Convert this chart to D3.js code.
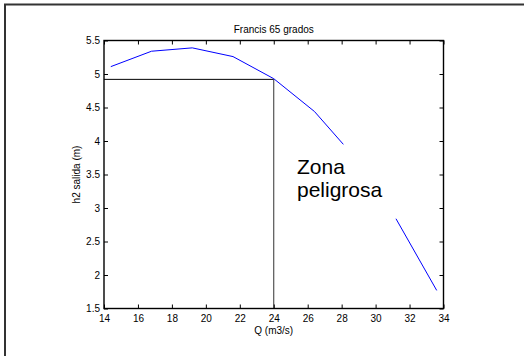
<!DOCTYPE html>
<html>
<head>
<meta charset="utf-8">
<script src="https://cdn.jsdelivr.net/npm/d3@7"></script>
<style>
  html, body { margin: 0; padding: 0; background: #fff; }
  svg { display: block; }
  text { font-family: "Liberation Sans", Arial, sans-serif; fill: #000; }
</style>
</head>
<body>
<svg id="chart" width="524" height="356"></svg>
<script>
// Caudal Q (m3/s) y altura h2 de salida (m); null marca el tramo sin curva
const caudal = [14.4, 16.8, 19.2, 21.6, 24.0, 26.4, 28.1, null, 31.2, 33.6];
const alturaSalida = [5.11, 5.34, 5.39, 5.26, 4.93, 4.44, 3.95, null, 2.84, 1.77];
// Punto de diseño marcado con las líneas guía
const puntoDiseno = [24, 4.92];
const xTicks = [14, 16, 18, 20, 22, 24, 26, 28, 30, 32, 34];
const yTicks = [1.5, 2, 2.5, 3, 3.5, 4, 4.5, 5, 5.5];
const titulo = "Francis 65 grados";
const etiquetaX = "Q (m3/s)";
const etiquetaY = "h2 salida (m)";
const zonaTexto = ["Zona", "peligrosa"];

const svg = d3.select("#chart");
const area = { left: 104, right: 443.5, top: 40.5, bottom: 308.5 };

const x = d3.scaleLinear().domain([14, 34]).range([area.left, area.right]);
const y = d3.scaleLinear().domain([1.5, 5.5]).range([area.bottom, area.top]);

// Marco exterior de la figura
svg.append("rect")
  .attr("x", 5).attr("y", 4.5)
  .attr("width", 540).attr("height", 370)
  .attr("fill", "none").attr("stroke", "#333").attr("stroke-width", 2);

// Líneas guía del punto de diseño
svg.append("line")
  .attr("x1", x(14)).attr("x2", x(puntoDiseno[0]))
  .attr("y1", y(puntoDiseno[1])).attr("y2", y(puntoDiseno[1]))
  .attr("stroke", "#000").attr("stroke-width", 1);
svg.append("line")
  .attr("x1", x(puntoDiseno[0])).attr("x2", x(puntoDiseno[0]))
  .attr("y1", y(puntoDiseno[1])).attr("y2", y(1.5))
  .attr("stroke", "#333").attr("stroke-width", 1);

// Curva h2 frente a Q
const datos = caudal.map((q, i) => ({ q, h: alturaSalida[i] }));
const linea = d3.line()
  .defined(d => d.q !== null && d.h !== null)
  .x(d => x(d.q)).y(d => y(d.h));
svg.append("path")
  .datum(datos)
  .attr("d", linea)
  .attr("fill", "none").attr("stroke", "#0000ff").attr("stroke-width", 1);

// Ejes con marcas hacia dentro en los cuatro lados
const tickLen = 4;
const fmt = d3.format("");
svg.append("g").attr("transform", `translate(0,${area.bottom})`)
  .call(d3.axisBottom(x).tickValues(xTicks).tickFormat(fmt).tickSizeInner(-tickLen).tickSizeOuter(0).tickPadding(6))
  .call(g => g.select(".domain").remove());
svg.append("g").attr("transform", `translate(0,${area.top})`)
  .call(d3.axisTop(x).tickValues(xTicks).tickFormat("").tickSizeInner(-tickLen).tickSizeOuter(0))
  .call(g => g.select(".domain").remove());
svg.append("g").attr("transform", `translate(${area.left},0)`)
  .call(d3.axisLeft(y).tickValues(yTicks).tickFormat(fmt).tickSizeInner(-tickLen).tickSizeOuter(0).tickPadding(4))
  .call(g => g.select(".domain").remove());
svg.append("g").attr("transform", `translate(${area.right},0)`)
  .call(d3.axisRight(y).tickValues(yTicks).tickFormat("").tickSizeInner(-tickLen).tickSizeOuter(0))
  .call(g => g.select(".domain").remove());

svg.selectAll(".tick line").attr("stroke", "#000");
svg.selectAll(".tick text")
  .attr("font-size", 10)
  .attr("font-family", "'Liberation Sans', Arial, sans-serif")
  .attr("fill", "#000");

// Caja de los ejes
svg.append("rect")
  .attr("x", area.left).attr("y", area.top)
  .attr("width", area.right - area.left).attr("height", area.bottom - area.top)
  .attr("fill", "none").attr("stroke", "#000").attr("stroke-width", 1.4);

// Textos
svg.append("text")
  .attr("x", (area.left + area.right) / 2).attr("y", 33)
  .attr("text-anchor", "middle").attr("font-size", 10)
  .text(titulo);
svg.append("text")
  .attr("x", (area.left + area.right) / 2).attr("y", 334)
  .attr("text-anchor", "middle").attr("font-size", 10)
  .text(etiquetaX);
svg.append("text")
  .attr("transform", `translate(80,${(area.top + area.bottom) / 2}) rotate(-90)`)
  .attr("text-anchor", "middle").attr("font-size", 10)
  .text(etiquetaY);

const zona = svg.append("text")
  .attr("x", 297).attr("y", 174)
  .attr("font-size", 21);
zona.selectAll("tspan").data(zonaTexto).join("tspan")
  .attr("x", 297).attr("dy", (d, i) => i === 0 ? 0 : 23)
  .text(d => d);
</script>
</body>
</html>
